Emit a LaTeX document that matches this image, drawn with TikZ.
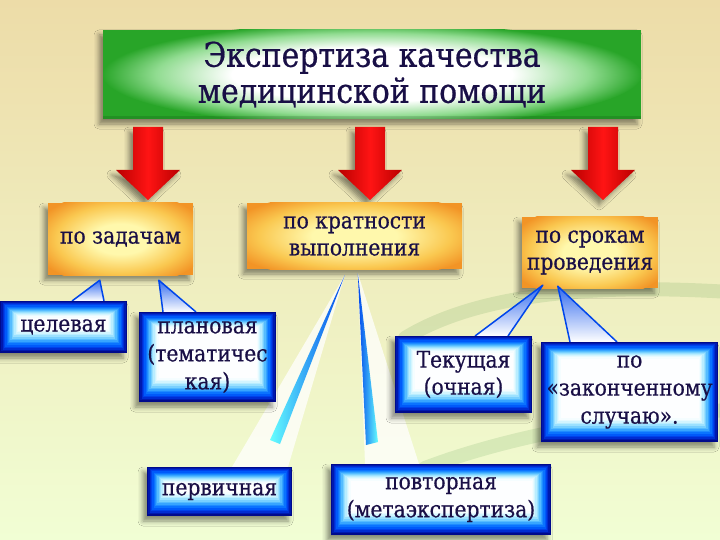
\documentclass[tikz,border=0pt]{standalone}
\usepackage{fontspec}
\setmainfont{DejaVu Serif}
\newfontfamily\tfont{DejaVu Serif}[FakeStretch=0.88,FakeBold=0.6]
\usetikzlibrary{calc,shadows.blur}
\definecolor{txt}{RGB}{25,15,70}
\definecolor{bgtop}{RGB}{237,220,168}
\definecolor{bgbot}{RGB}{241,254,212}
\definecolor{tailblue}{RGB}{0,70,235}
\definecolor{gedge}{RGB}{40,165,40}
\definecolor{gmid}{RGB}{145,220,145}
\definecolor{oedge}{RGB}{242,148,38}
\definecolor{omid}{RGB}{250,200,80}
\definecolor{ocenter}{RGB}{255,248,172}
\pgfdeclareradialshading{glowgreen}{\pgfpoint{0bp}{0bp}}{color(0bp)=(white); color(13bp)=(white); color(20bp)=(gmid); color(25bp)=(gedge); color(50bp)=(gedge)}
\pgfdeclareradialshading{gloworange}{\pgfpoint{0bp}{0bp}}{color(0bp)=(ocenter); color(8bp)=(ocenter); color(18bp)=(omid); color(25bp)=(oedge); color(50bp)=(oedge)}
\newcommand\mylayers[4]{%
  \foreach \i/\r/\g/\b in {#1}{%
    \fill[color={rgb,255:red,\r;green,\g;blue,\b}]
      ($(path picture bounding box.south west)+(\i*#2,\i*#3)$) rectangle
      ($(path picture bounding box.north east)+(-\i*#2,-\i*#4)$);}}
\newcommand\bluelist{0/0/10/140,1/0/25/175,2/0/45/210,3/0/65/235,4/0/90/250,5/10/115/255,6/30/140/255,7/55/165/255,8/85/188/255,9/120/208/255,10/155/225/255,11/185/237/255,12/210/245/255,13/230/250/255,14/245/253/255,15/253/254/255}
\tikzset{
  sh/.style={blur shadow={shadow xshift=-4pt,shadow yshift=-5pt,shadow blur radius=5pt,shadow opacity=45}},
  base/.style={inner sep=0pt,align=center,text=txt,sh},
  titlebox/.style={base,minimum width=538pt,minimum height=89pt,
    font=\tfont\fontsize{34}{36}\selectfont,
    path picture={\fill[gedge] (path picture bounding box.south west) rectangle (path picture bounding box.north east);
      \shade[shading=glowgreen] (path picture bounding box.center) ellipse [x radius=270pt,y radius=52pt];
      \fill[black,opacity=0.12] (path picture bounding box.south west) rectangle ($(path picture bounding box.south east)+(0,3pt)$);}},
  orangebox/.style 2 args={base,font=\tfont\fontsize{23}{27}\selectfont,minimum width=#1pt,minimum height=#2pt,
    path picture={\fill[oedge] (path picture bounding box.south west) rectangle (path picture bounding box.north east);
      \shade[shading=gloworange] (path picture bounding box.center) ellipse [x radius=0.62*#1pt,y radius=0.66*#2pt];}},
  bluebox/.style 2 args={base,font=\tfont\fontsize{23}{28}\selectfont,minimum width=#1pt,minimum height=#2pt,
    path picture={\expandafter\mylayers\expandafter{\bluelist}{1.3pt}{1.6pt}{1.1pt}}},
  tail/.style={draw=tailblue,line width=1.5pt,line join=round,top color=tailblue!80,bottom color=white},
  whitetail/.style={fill=white,fill opacity=0.75},
  redarrow/.style={left color={rgb,255:red,185;green,0;blue,0},right color={rgb,255:red,185;green,0;blue,0},
    middle color={rgb,255:red,255;green,20;blue,20},sh},
  swoosh/.style={line width=14pt,draw=black!60!green,opacity=0.10,line cap=round}
}
\newcommand\redarr[1]{%
  \path[redarrow] (#1-15,127) -- (#1+15,127) -- (#1+15,170) -- (#1+32,170) -- (#1,200)
    -- (#1-32,170) -- (#1-15,170) -- cycle;}
\begin{document}
\begin{tikzpicture}[x=1pt,y=-1pt]
\useasboundingbox (0,0) rectangle (720,540);
\shade[top color=bgtop,bottom color=bgbot] (0,0) rectangle (720,540);
% faint background swooshes
\draw[swoosh] (405,338) .. controls (480,292) and (600,284) .. (730,292);
\draw[swoosh] (425,468) .. controls (520,432) and (640,414) .. (730,410);

% title and arrows
\node[titlebox] (t) at (372,74.5) {Экспертиза качества\\медицинской помощи};
\redarr{148}
\redarr{370}
\redarr{603}

% orange category boxes
\node[orangebox={145}{72}] (zad) at (120.5,239) {по задачам};
\node[orangebox={215}{66}] (krat) at (354.5,236) {по кратности\\выполнения};
\node[orangebox={136}{71}] (srok) at (590,252.5) {по срокам\\проведения};

% tail tips
\coordinate (tipcel) at ($(zad.south west)+(52,5)$);
\coordinate (tipplan) at ($(zad.south west)+(111,5)$);
\coordinate (tipperv) at ($(krat.south west)+(98,6)$);
\coordinate (tippovt) at ($(krat.south west)+(111,4)$);
\coordinate (tiptek) at ($(srok.south west)+(21,-3)$);
\coordinate (tipzak) at ($(srok.south west)+(36,-2)$);

% blue box centres
\path (63.5,327) coordinate (ccel) (207.5,357) coordinate (cplan) (219.5,491.5) coordinate (cperv)
      (441,499.5) coordinate (cpovt) (463.5,374.5) coordinate (ctek) (629.5,392) coordinate (czak);

% tails
\path[tail] ($(ccel)+(8.5,-26)$) -- (tipcel) -- ($(ccel)+(40.5,-26)$);
\path[tail] ($(cplan)+(-44.5,-45)$) -- (tipplan) -- ($(cplan)+(-11.5,-45)$);
\path[whitetail] ($(cperv)+(12.5,-24.5)$) -- (tipperv) -- ($(cperv)+(68.5,-24.5)$) -- cycle;
\path[left color=cyan!60,right color=tailblue] (tipperv) -- ($(cperv)+(50.5,-51.5)$) -- ($(cperv)+(60.5,-47.5)$) -- cycle;
\path[whitetail] ($(cpovt)+(-76,-35.5)$) -- (tippovt) -- ($(cpovt)+(-22,-35.5)$) -- cycle;
\path[left color=tailblue,right color=cyan!60] (tippovt) -- ($(cpovt)+(-75,-54.5)$) -- ($(cpovt)+(-63,-57.5)$) -- cycle;
\path[tail] ($(ctek)+(11.5,-38.5)$) -- (tiptek) -- ($(ctek)+(44.5,-38.5)$);
\path[tail] ($(czak)+(-59.5,-50)$) -- (tipzak) -- ($(czak)+(-12.5,-50)$);

\node[bluebox={127}{52}] (cel) at (ccel) {целевая};
\node[bluebox={137}{90}] (plan) at (cplan) {плановая\\(тематичес\\кая)};
\node[bluebox={145}{49}] (perv) at (cperv) {первичная};
\node[bluebox={220}{71}] (povt) at (cpovt) {повторная\\(метаэкспертиза)};
\node[bluebox={137}{77},font=\tfont\fontsize{23}{27}\selectfont] (tek) at (ctek) {Текущая\\(очная)};
\node[bluebox={177}{100}] (zak) at (czak) {по\\«законченному\\случаю».};
\end{tikzpicture}
\end{document}
